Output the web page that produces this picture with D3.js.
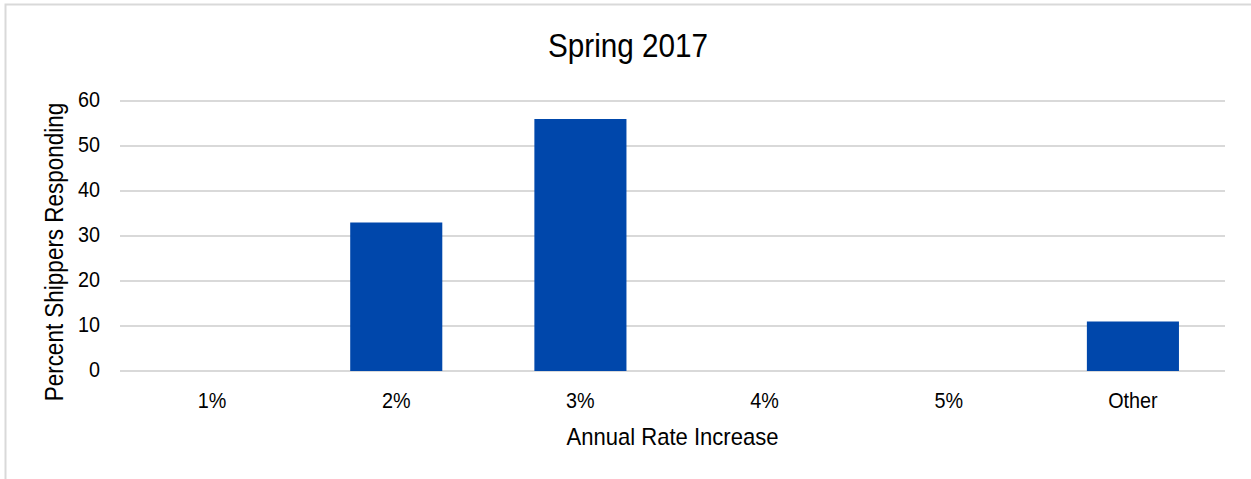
<!DOCTYPE html>
<html>
<head>
<meta charset="utf-8">
<script src="https://cdn.jsdelivr.net/npm/d3@7"></script>
<style>
  html, body { margin: 0; padding: 0; background: #fff; }
  svg { display: block; }
  text { font-family: "Liberation Sans", Arial, sans-serif; fill: #000; }
</style>
</head>
<body>
<svg id="chart" width="1251" height="479"></svg>
<script>
// Survey responses: expected annual rate increase
const categories = ["1%", "2%", "3%", "4%", "5%", "Other"];
const percents = [0, 33, 56, 0, 0, 11];
const yTicks = [0, 10, 20, 30, 40, 50, 60];
const title = "Spring 2017";
const xTitle = "Annual Rate Increase";
const yTitle = "Percent Shippers Responding";

const svg = d3.select("#chart");
const W = 1251, H = 479;
const plot = { left: 120, right: 1225, top: 101, bottom: 371 };
const NARROW = 0.9; // horizontal squeeze giving the narrow typeface look

// Outer frame (top and left edges visible)
svg.append("path")
  .attr("d", `M5.5,${H} V4.5 H${W}`)
  .attr("fill", "none")
  .attr("stroke", "#d9d9d9")
  .attr("stroke-width", 2);

const x = d3.scaleBand()
  .domain(categories)
  .range([plot.left, plot.right])
  .paddingInner(0.5)
  .paddingOuter(0.25);

const y = d3.scaleLinear()
  .domain([0, 60])
  .range([plot.bottom, plot.top]);

// Gridlines
svg.append("g")
  .selectAll("line")
  .data(yTicks)
  .join("line")
  .attr("x1", plot.left)
  .attr("x2", plot.right)
  .attr("y1", d => y(d))
  .attr("y2", d => y(d))
  .attr("stroke", "#d9d9d9")
  .attr("stroke-width", 2);

// Bars
svg.append("g")
  .selectAll("rect")
  .data(categories.map((c, i) => ({ c, v: percents[i] })).filter(d => d.v > 0))
  .join("rect")
  .attr("x", d => x(d.c))
  .attr("width", x.bandwidth())
  .attr("y", d => y(d.v))
  .attr("height", d => y(0) - y(d.v))
  .attr("fill", "#0047ab");

// Y axis tick labels
const yAxis = d3.axisLeft(y).tickValues(yTicks).tickSize(0).tickPadding(20);
const gy = svg.append("g").attr("transform", `translate(${plot.left},0)`).call(yAxis);
gy.select(".domain").remove();
gy.selectAll("text")
  .attr("font-size", 22)
  .style("font-family", null)
  .attr("x", -20 / NARROW)
  .attr("y", -2)
  .attr("transform", `scale(${NARROW},1)`);

// X axis tick labels
const xAxis = d3.axisBottom(x).tickSize(0).tickPadding(0);
const gx = svg.append("g").attr("transform", `translate(0,${plot.bottom})`).call(xAxis);
gx.select(".domain").remove();
gx.selectAll("text")
  .attr("font-size", 22)
  .style("font-family", null)
  .attr("y", 37)
  .attr("dy", null)
  .attr("transform", `scale(${NARROW},1)`);

// Title, centred on the whole chart area
svg.append("text")
  .attr("transform", `translate(628,57) scale(${NARROW},1)`)
  .attr("text-anchor", "middle")
  .attr("font-size", 33)
  .text(title);

// Axis titles
svg.append("text")
  .attr("transform", `translate(${(plot.left + plot.right) / 2},445) scale(${NARROW},1)`)
  .attr("text-anchor", "middle")
  .attr("font-size", 24.5)
  .text(xTitle);

svg.append("text")
  .attr("transform", `translate(63,252) rotate(-90) scale(${NARROW},1)`)
  .attr("text-anchor", "middle")
  .attr("font-size", 25)
  .text(yTitle);
</script>
</body>
</html>
